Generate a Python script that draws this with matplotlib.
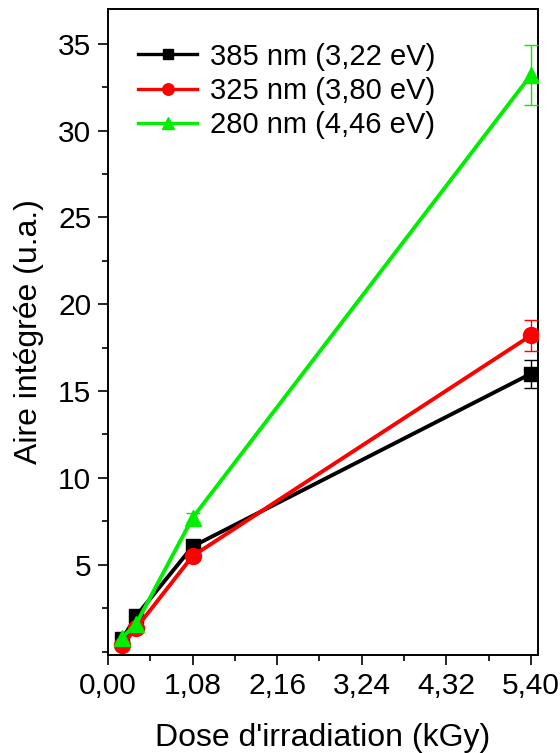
import matplotlib
matplotlib.use("Agg")
import matplotlib.pyplot as plt
from matplotlib.ticker import MultipleLocator, FuncFormatter
from matplotlib.lines import Line2D

plt.rcParams['font.family'] = ['Liberation Sans', 'DejaVu Sans']

dose = [0.18, 0.36, 1.08, 5.40]
labels = ["385 nm (3,22 eV)", "325 nm (3,80 eV)", "280 nm (4,46 eV)"]
y385 = [0.7, 2.05, 6.05, 16.0]
e385 = [0.15, 0.15, 0.2, 0.8]
y325 = [0.35, 1.35, 5.5, 18.2]
e325 = [0.15, 0.2, 0.2, 0.9]
y280 = [0.8, 1.6, 7.7, 33.2]
e280 = [0.2, 0.25, 0.25, 1.7]
colors = ["#000000", "#ff0000", "#00ee00"]
markers = ["s", "o", "^"]
xticks = [0.00, 1.08, 2.16, 3.24, 4.32, 5.40]

fig = plt.figure(figsize=(5.6, 7.53), dpi=100)
ax = fig.add_axes([108/560, 1-655/753, (538-108)/560, (655-9)/753])

handles = []
for y, e, c, m, lab in zip([y385, y325, y280], [e385, e325, e280], colors, markers, labels):
    ms = {'s': 10.5, 'o': 11.5, '^': 12}[m]
    ax.errorbar(dose, y, yerr=e, color=c, marker=m, markersize=ms,
                linewidth=2.8, elinewidth=1.0, capsize=5, capthick=1.0, zorder=3)
    handles.append(Line2D([], [], color=c, marker=m, markersize=ms * 0.72,
                          linewidth=2.4, label=lab))

ax.set_xlim(0, 5.49)
ax.set_ylim(-0.2, 37)
ax.set_xticks(xticks)
ax.xaxis.set_minor_locator(MultipleLocator(0.54))
ax.xaxis.set_major_formatter(FuncFormatter(lambda v, p: f"{v:.2f}".replace('.', ',')))
ax.set_yticks([5, 10, 15, 20, 25, 30, 35])
ax.yaxis.set_minor_locator(MultipleLocator(2.5))

ax.tick_params(which='both', direction='out', labelsize=21.5, width=1.2)
ax.tick_params(which='major', length=7, pad=5)
ax.tick_params(which='minor', length=4)
for s in ax.spines.values():
    s.set_linewidth(1.4)

ax.set_xlabel("Dose d'irradiation (kGy)", fontsize=23, labelpad=17)
ax.set_ylabel("Aire intégrée (u.a.)", fontsize=23, labelpad=10)

leg = ax.legend(handles=handles, loc='upper left', bbox_to_anchor=(0.03, 0.975), frameon=False,
                fontsize=21, handlelength=2.0, handletextpad=0.45, labelspacing=0.22,
                borderaxespad=0.2)

fig.savefig("out.png", dpi=100)
